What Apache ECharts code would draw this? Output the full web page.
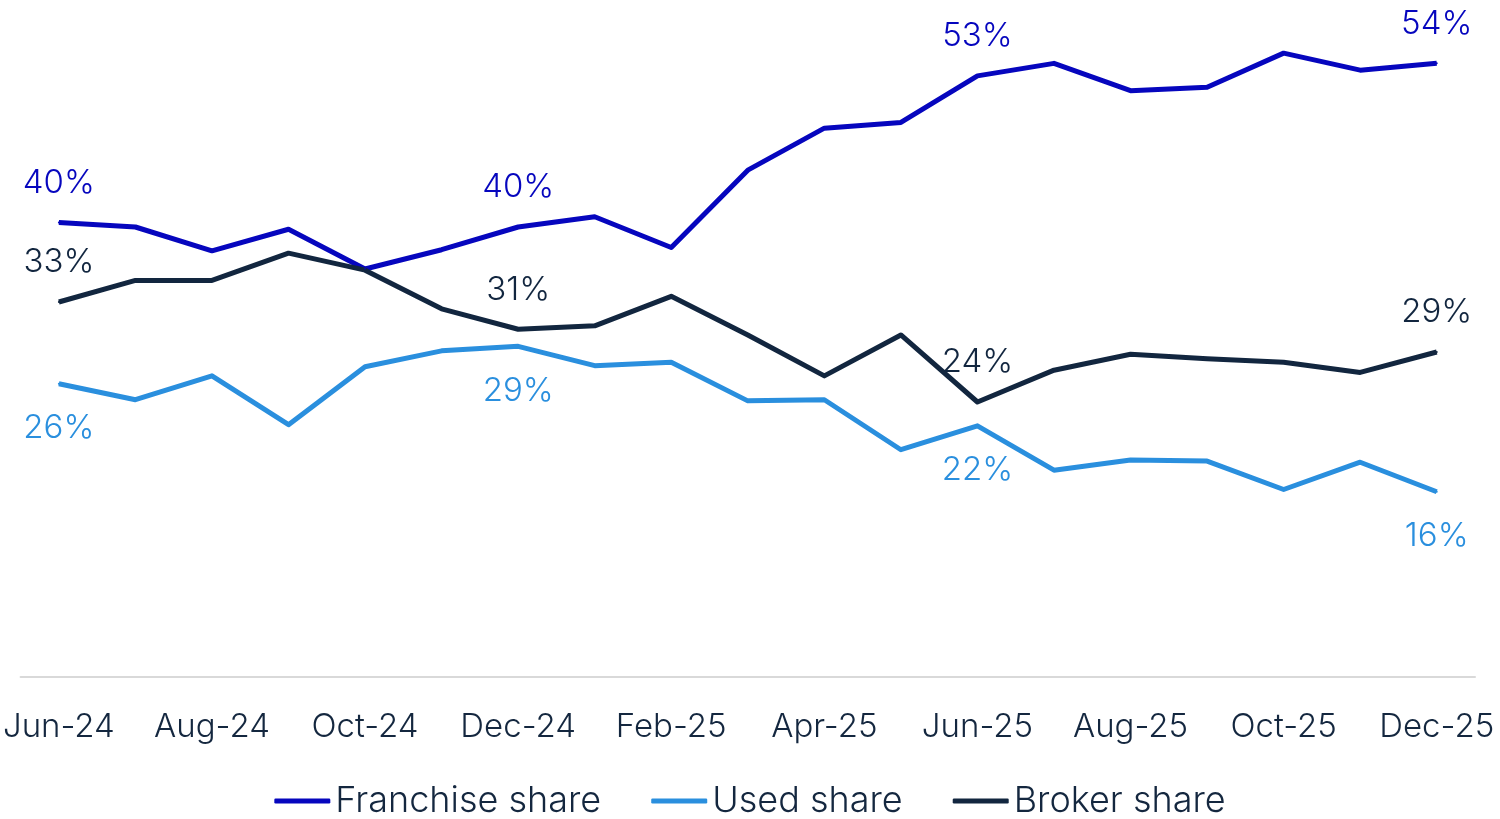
<!DOCTYPE html>
<html>
<head>
<meta charset="utf-8">
<title>Share by channel</title>
<script src="https://cdn.jsdelivr.net/npm/echarts@6/dist/echarts.min.js"></script>
<style>
  html, body { margin: 0; padding: 0; background: #fff; }
  #main { width: 1500px; height: 819px; }
</style>
</head>
<body>
<div id="main"></div>
<script>
// months Jun-24 .. Dec-25
var months = ['Jun-24', 'Jul-24', 'Aug-24', 'Sep-24', 'Oct-24', 'Nov-24', 'Dec-24',
  'Jan-25', 'Feb-25', 'Mar-25', 'Apr-25', 'May-25', 'Jun-25', 'Jul-25',
  'Aug-25', 'Sep-25', 'Oct-25', 'Nov-25', 'Dec-25']

var franchise = [40.0, 39.6, 37.5, 39.4, 35.9, 37.6, 39.6, 40.5, 37.8, 44.6,
  48.3, 48.8, 52.9, 54.0, 51.6, 51.9, 54.9, 53.4, 54.0]
var used = [25.8, 24.4, 26.5, 22.2, 27.3, 28.7, 29.1, 27.4, 27.7, 24.3,
  24.4, 20.0, 22.1, 18.2, 19.1, 19.0, 16.5, 18.9, 16.3]
var broker = [33.0, 34.9, 34.9, 37.3, 35.8, 32.4, 30.6, 30.9, 33.5, 30.1,
  26.5, 30.1, 24.2, 27.0, 28.4, 28.0, 27.7, 26.8, 28.6]

// points that carry a value label
var labelIdx = [0, 6, 12, 18]

var FONT = 'Inter'

var chart = echarts.init(document.getElementById('main'))

function makeSeries(name, values, color, pos, dist) {
  return {
    name: name,
    type: 'line',
    data: values.map(function (v, i) {
      return {
        value: v,
        label: { show: labelIdx.indexOf(i) >= 0 }
      }
    }),
    symbol: 'circle',
    symbolSize: 2,
    lineStyle: { width: 5, color: color, join: 'round' },
    itemStyle: { color: color },
    label: {
      position: pos,
      distance: dist,
      color: color,
      fontSize: 33,
      fontWeight: 300,
      fontFamily: FONT,
      formatter: function (p) { return Math.round(p.value) + '%' }
    },
    emphasis: { disabled: true }
  }
}

var option = {
  animation: false,
  textStyle: { fontFamily: FONT },
  // 图表距边框的距离
  grid: {
    left: 18,
    right: 25,
    top: 52,
    bottom: 142,
    containLabel: false
  },
  legend: {
    left: 'center',
    top: 778,
    icon: 'roundRect',
    itemWidth: 56,
    itemHeight: 5,
    itemGap: 50,
    textStyle: { color: '#14273f', fontSize: 36, fontWeight: 300, fontFamily: FONT },
    data: ['Franchise share', 'Used share', 'Broker share']
  },
  xAxis: {
    type: 'category',
    data: months,
    boundaryGap: true,
    axisLine: { lineStyle: { color: '#d9d9d9', width: 2 } },
    axisTick: { show: false },
    axisLabel: {
      interval: 1,
      margin: 34,
      color: '#14273f',
      fontSize: 33,
      fontWeight: 300,
      fontFamily: FONT
    }
  },
  yAxis: {
    type: 'value',
    min: 0,
    max: 55,
    show: false,
    splitLine: { show: false }
  },
  series: [
    makeSeries('Franchise share', franchise, '#0606be', 'top', 22),
    makeSeries('Used share', used, '#2a8fde', 'bottom', 27),
    makeSeries('Broker share', broker, '#12263f', 'top', 22)
  ]
}

chart.setOption(option)
</script>
</body>
</html>
